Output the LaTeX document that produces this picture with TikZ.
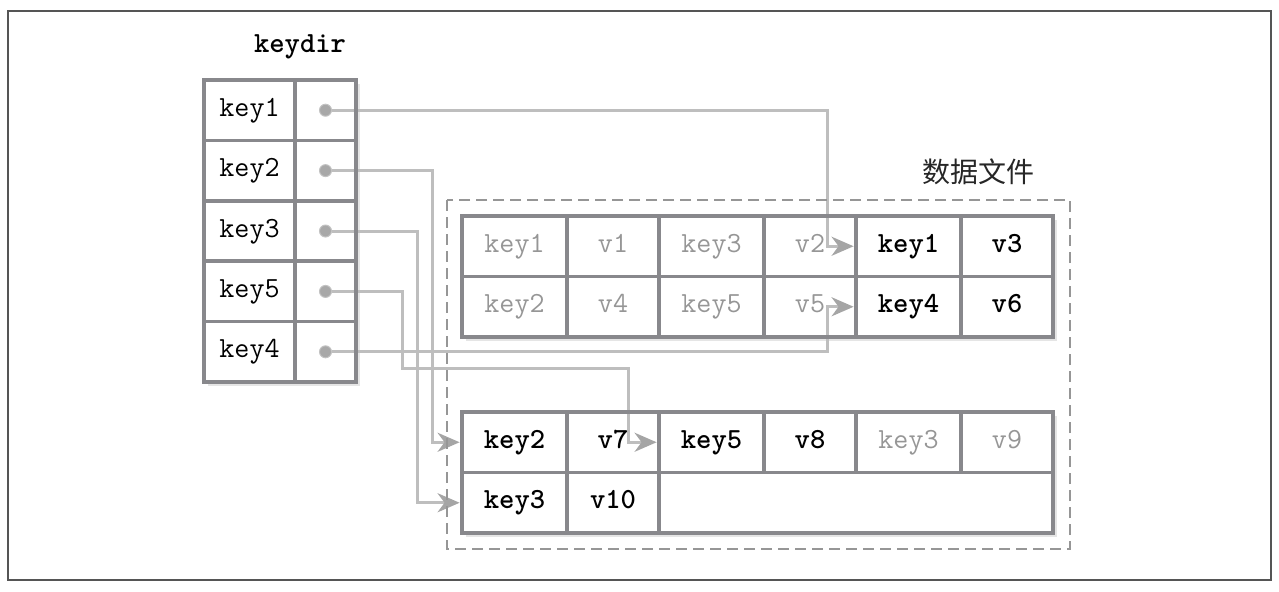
\documentclass[tikz,border=0pt]{standalone}
\usepackage{fontspec}
\newfontfamily\cjk{Noto Sans CJK SC}
\usetikzlibrary{arrows.meta,calc,positioning,backgrounds}

\definecolor{tablegray}{RGB}{136,136,140}
\definecolor{linkgray}{RGB}{190,190,190}
\definecolor{tipgray}{RGB}{165,165,165}
\definecolor{dotgray}{RGB}{168,168,168}
\definecolor{oldtext}{RGB}{150,150,150}
\definecolor{framegray}{RGB}{85,85,85}
\definecolor{dashgray}{RGB}{150,150,150}

\begin{document}
\begin{tikzpicture}[
  x=0.5pt,y=-0.5pt,
  line join=miter,
  every node/.style={font=\fontsize{14.6}{17}\selectfont\ttfamily},
  cell/.style={draw=tablegray,line width=1.8pt,outer sep=0pt,inner sep=0pt,
    text height=8.5pt,text depth=2.4pt},
  keycell/.style={cell,minimum width=45.5pt,minimum height=30.2pt},
  ptrcell/.style={cell,minimum width=30.5pt,minimum height=30.2pt},
  fkey/.style={cell,minimum width=52.5pt,minimum height=30.25pt},
  fval/.style={cell,minimum width=46pt,minimum height=30.25pt},
  old/.style={text=oldtext},
  live/.style={font=\fontsize{14.6}{17}\selectfont\ttfamily\bfseries},
  dot/.style={circle,fill=dotgray,draw=dotgray!70,line width=.5pt,minimum size=6pt,inner sep=0pt},
  link/.style={linkgray,line width=1.5pt,shorten >=1.2pt,
    -{Stealth[length=11pt,width=9.5pt,inset=3.5pt,color=tipgray]}},
  shade/.style={black!10,line width=2pt},
  filebox/.style={dashgray,line width=1.2pt,dash pattern=on 5.5pt off 3pt},
  frame/.style={framegray,line width=1pt}
]
% Bounding box and frame.
\useasboundingbox (0,0) rectangle (1279,591);
\draw[frame] (8,11) rectangle (1271,580);

% The keydir.
\node[live] (kdtitle) at (300,47) {keydir};
\node[keycell,anchor=north west] (k1) at (204,80) {key1};
\node[ptrcell,right=0pt of k1] (p1) {};
\node[keycell,below=0pt of k1] (k2) {key2};
\node[ptrcell,right=0pt of k2] (p2) {};
\node[keycell,below=0pt of k2] (k3) {key3};
\node[ptrcell,right=0pt of k3] (p3) {};
\node[keycell,below=0pt of k3] (k5) {key5};
\node[ptrcell,right=0pt of k5] (p5) {};
\node[keycell,below=0pt of k5] (k4) {key4};
\node[ptrcell,right=0pt of k4] (p4) {};
\node[dot] (d1) at (p1) {};
\node[dot] (d2) at (p2) {};
\node[dot] (d3) at (p3) {};
\node[dot] (d5) at (p5) {};
\node[dot] (d4) at (p4) {};

% The data file.
\draw[filebox] (447,200) rectangle (1070,549);
\node[font=\fontsize{14}{16}\selectfont\cjk,text=black!85] (ftitle) at (978,172) {数据文件};

% Upper segment.
\node[fkey,old,anchor=north west] (u11) at (462,216) {key1};
\node[fval,old,right=0pt of u11] (u12) {v1};
\node[fkey,old,right=0pt of u12] (u13) {key3};
\node[fval,old,right=0pt of u13] (u14) {v2};
\node[fkey,live,right=0pt of u14] (u15) {key1};
\node[fval,live,right=0pt of u15] (u16) {v3};
\node[fkey,old,below=0pt of u11] (u21) {key2};
\node[fval,old,right=0pt of u21] (u22) {v4};
\node[fkey,old,right=0pt of u22] (u23) {key5};
\node[fval,old,right=0pt of u23] (u24) {v5};
\node[fkey,live,right=0pt of u24] (u25) {key4};
\node[fval,live,right=0pt of u25] (u26) {v6};

% Lower segment.
\node[fkey,live,anchor=north west] (l11) at (462,412) {key2};
\node[fval,live,right=0pt of l11] (l12) {v7};
\node[fkey,live,right=0pt of l12] (l13) {key5};
\node[fval,live,right=0pt of l13] (l14) {v8};
\node[fkey,old,right=0pt of l14] (l15) {key3};
\node[fval,old,right=0pt of l15] (l16) {v9};
\node[fkey,live,below=0pt of l11] (l21) {key3};
\node[fval,live,right=0pt of l21] (l22) {v10};
\node[cell,minimum width=197pt,minimum height=30.25pt,right=0pt of l22] (l23) {};

\coordinate (k5turn) at (402,368);

\begin{scope}[on background layer]
  % Shadows.
  \draw[shade] ($(p1.north east)+(2,4)$) |- ($(k4.south west)+(4,2)$);
  \draw[shade] ($(u16.north east)+(2,4)$) |- ($(u21.south west)+(4,2)$);
  \draw[shade] ($(l16.north east)+(2,4)$) |- ($(l21.south west)+(4,2)$);
  % Pointers into the data file.
  \draw[link] (d1) -| ($(u14.east)+(-29,0)$) -- (u15);
  \draw[link] (d4) -| ($(u24.east)+(-29,0)$) -- (u25);
  \draw[link] (d2) -| ($(l11.west)+(-30,0)$) -- (l11);
  \draw[link] (d3) -| ($(l21.west)+(-45,0)$) -- (l21);
  \draw[link] (d5) -| (k5turn) -| ($(l13.west)+(-31,0)$) -- (l13);
\end{scope}
\end{tikzpicture}
\end{document}
